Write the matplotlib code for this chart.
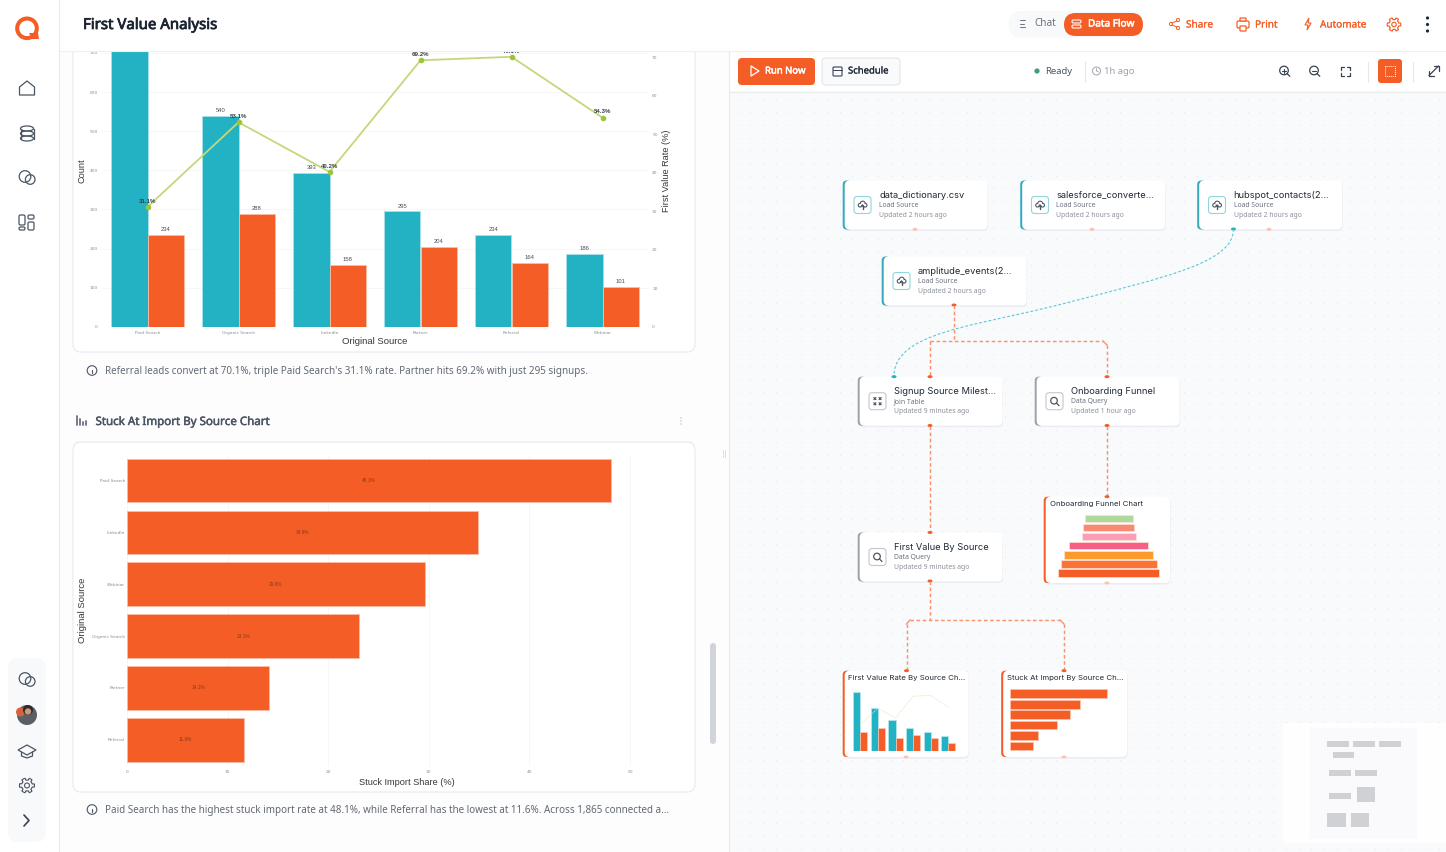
import numpy as np
import matplotlib
matplotlib.use("Agg")
import matplotlib.pyplot as plt
import matplotlib.patheffects as pe
from matplotlib.patches import Circle, Ellipse, FancyBboxPatch, PathPatch, Polygon, Rectangle
from matplotlib.path import Path

# ==============================
# Chart data
# ==============================

sources = ["Paid Search", "Organic Search", "LinkedIn", "Partner", "Referral", "Webinar"]
signups = [752, 540, 393, 295, 234, 186]
first_value = [234, 288, 158, 204, 164, 101]
first_value_rate = [31.1, 53.1, 40.2, 69.2, 70.1, 54.3]
count_ticks = [0, 100, 200, 300, 400, 500, 600, 700]
rate_ticks = [0, 10, 20, 30, 40, 50, 60, 70]

stuck_sources = ["Paid Search", "LinkedIn", "Webinar", "Organic Search", "Partner", "Referral"]
stuck_share = [48.1, 34.9, 29.6, 23.1, 14.1, 11.6]
stuck_ticks = [0, 10, 20, 30, 40, 50]

funnel_sizes = [48, 51, 54, 79, 89, 96, 101]
funnel_colors = ["#b0d89a", "#f88a74", "#fb9db5", "#f85f85", "#fd9a2c", "#fb7335", "#f55c26"]

TEAL = "#22b2c4"
ORANGE = "#f45d26"
LIME = "#c3d87a"
LIME_DOT = "#9cc43c"
GREY = "#4b5563"
SANS = "Noto Sans"
NODE = "Inter"
HELV = "Liberation Sans"
STROKE = {"bold": 0.55, "semibold": 0.35, "medium": 0.15}

W, H = 1446, 852
fig = plt.figure(figsize=(W / 100, H / 100), dpi=100)
fig.patch.set_facecolor("#fdfdfe")


def px_axes(x0, y0, x1, y1, z=1):
    a = fig.add_axes([x0 / W, 1 - y1 / H, (x1 - x0) / W, (y1 - y0) / H], zorder=z)
    a.patch.set_visible(False)
    return a


def overlay(z):
    a = px_axes(0, 0, W, H, z)
    a.set_xlim(0, W)
    a.set_ylim(H, 0)
    a.axis("off")
    return a


def rrect(a, x0, y0, x1, y1, r=4, fc="white", ec="none", lw=0.8, z=2):
    p = FancyBboxPatch((x0, y0), x1 - x0, y1 - y0, boxstyle=f"round,pad=0,rounding_size={r}",
                       fc=fc, ec=ec, lw=lw, zorder=z)
    a.add_patch(p)
    return p


def label(a, x, y, s, px, color=GREY, weight="normal", family=SANS, ha="left", z=6):
    # the sans family has no bold cut here, so heavier text gets a thin stroke
    t = a.text(x, y, s, fontsize=px * 0.72, color=color, family=family, ha=ha, va="center", zorder=z)
    if weight in STROKE:
        t.set_path_effects([pe.withStroke(linewidth=STROKE[weight], foreground=color)])


def line(a, xs, ys, color=GREY, lw=0.9, z=6, **kw):
    a.plot(xs, ys, color=color, lw=lw, zorder=z, solid_capstyle="round", **kw)


def ring(a, x, y, r, color=GREY, lw=0.9, fc="none", z=6):
    a.add_patch(Circle((x, y), r, fc=fc, ec=color, lw=lw, zorder=z))


def gear(a, x, y, r, color=GREY):
    th = np.linspace(0, 2 * np.pi, 90)
    rad = r * (0.86 + 0.14 * np.sign(np.cos(6 * th)))
    a.add_patch(Polygon(np.c_[x + rad * np.cos(th), y + rad * np.sin(th)], fc="none", ec=color, lw=0.8, joinstyle="round", zorder=6))
    ring(a, x, y, r * 0.33, color, 0.8)


def chat_icon(a, x, y):
    ring(a, x - 2, y - 1.5, 5.8, GREY, fc="none")
    ring(a, x + 3.2, y + 1.5, 4.8, GREY, fc="none")


bg = overlay(0)

# ==============================
# Panes
# ==============================

bg.add_patch(Rectangle((729, 0), W - 729, H, fc="#f8fafc", ec="none", zorder=0))
dots_x, dots_y = np.meshgrid(np.arange(737.7, W, 12.75), np.arange(99.5, H, 12.7))
bg.scatter(dots_x.ravel(), dots_y.ravel(), s=0.6, c="#e3e6ec", linewidths=0, zorder=1)
bg.add_patch(Rectangle((729, 51), W - 729, 40, fc="white", ec="none", zorder=2))
line(bg, [729, W], [91.5, 91.5], "#e8eaee", 0.8, 3)
line(bg, [728.5, 728.5], [51, H], "#e8eaee", 0.8, 3)
line(bg, [723, 723], [450, 457], "#dcdfe4", 0.7, 3)
line(bg, [725, 725], [450, 457], "#dcdfe4", 0.7, 3)

rrect(bg, 73, -40, 695, 352, 8, "white", "#e8eaee", 0.8)
rrect(bg, 73, 442, 695, 792, 8, "white", "#e8eaee", 0.8)
rrect(bg, 710, 643, 716, 744, 3, "#d1d5db")

# ==============================
# Captions
# ==============================

ring(bg, 92, 370.5, 4.8, "#4b5563", 0.8)
line(bg, [92, 92], [369.5, 373], "#4b5563", 0.8)
label(bg, 105, 371.5, "Referral leads convert at 70.1%, triple Paid Search's 31.1% rate. Partner hits 69.2% with just 295 signups.", 9.87, "#626974")
label(bg, 95.5, 422.5, "Stuck At Import By Source Chart", 11.55, "#4b5563", "semibold")
for bx, bh in zip([77, 80, 83, 85.5], [9, 6, 3, 4]):
    line(bg, [bx, bx], [425, 425 - bh], "#6b7280", 1.3)
for ky in [418, 421, 424]:
    bg.add_patch(Circle((681, ky), 0.6, fc="#9ca3af", ec="none", zorder=6))
ring(bg, 92, 809.5, 4.8, "#4b5563", 0.8)
line(bg, [92, 92], [808.5, 812], "#4b5563", 0.8)
label(bg, 105, 810.5, "Paid Search has the highest stuck import rate at 48.1%, while Referral has the lowest at 11.6%. Across 1,865 connected a\u2026", 9.87, "#626974")

# ==============================
# First value chart
# ==============================

COUNT_PX = 0.391
RATE_PX = 3.85
BASE_Y, TOP_Y = 326.7, 30
ax = px_axes(102, TOP_Y, 648, BASE_Y)
x = np.arange(len(sources))
bars_a = ax.bar(x - 0.2, signups, width=0.4, color=TEAL, edgecolor="#a8e0e8", linewidth=0.6)
bars_b = ax.bar(x + 0.2, first_value, width=0.4, color=ORANGE, edgecolor="#fbbca4", linewidth=0.6)
ax.set_xlim(-0.5, len(sources) - 0.5)
ax.set_ylim(0, (BASE_Y - TOP_Y) / COUNT_PX)
ax.set_yticks(count_ticks)
ax.set_xticks(x, sources)
ax.tick_params(length=0, labelsize=3.2, labelcolor="#8b8f96", pad=3)
ax.grid(axis="y", color="#f5f6f8", lw=0.6)
ax.set_axisbelow(True)
for s in ax.spines.values():
    s.set_visible(False)
# the tallest bar's label has scrolled away under the page header
ax.bar_label(bars_a, labels=["" if v > count_ticks[-1] else str(v) for v in signups],
             padding=2, fontsize=4.2, color="#4b4f55", family=HELV)
ax.bar_label(bars_b, padding=2, fontsize=4.2, color="#4b4f55", family=HELV)
ax.set_xlabel("Original Source", fontsize=6.8, family=HELV, color="#33363b", labelpad=1.5)
ax.set_ylabel("Count", fontsize=6.6, family=HELV, color="#33363b")
ax.yaxis.set_label_coords(-0.029, 0.525)

ax2 = ax.twinx()
ax2.patch.set_visible(False)
ax2.plot(x, first_value_rate, color=LIME, lw=1.3, marker="o", ms=3, mfc=LIME_DOT, mec=LIME_DOT)
ax2.set_ylim(0, (BASE_Y - TOP_Y) / RATE_PX)
ax2.set_yticks(rate_ticks)
ax2.tick_params(length=0, labelsize=3.2, labelcolor="#8b8f96", pad=3)
for s in ax2.spines.values():
    s.set_visible(False)
for xi, v in zip(x, first_value_rate):
    ax2.annotate(f"{v}%", (xi, v), xytext=(0, 3), textcoords="offset points", ha="center",
                 fontsize=4.4, fontweight="bold", family=HELV, color="#3b3f45")
ax2.set_ylabel("First Value Rate (%)", fontsize=6.6, family=HELV, color="#33363b")
ax2.yaxis.set_label_coords(1.026, 0.525)

# ==============================
# Stuck at import chart
# ==============================

ax3 = px_axes(127, 454.6, 660, 765.7)
y = np.arange(len(stuck_sources))
ax3.barh(y, stuck_share, height=0.84, color=ORANGE, edgecolor="#fbbca4", linewidth=0.6)
ax3.set_ylim(len(stuck_sources) - 0.5, -0.5)
ax3.set_xlim(0, 533 / 10.06)
ax3.set_xticks(stuck_ticks)
ax3.set_yticks(y, stuck_sources)
ax3.tick_params(axis="x", length=0, labelsize=3.2, labelcolor="#8b8f96", pad=3)
ax3.tick_params(axis="y", length=0, labelsize=3.2, labelcolor="#8b8f96", pad=1.5)
ax3.grid(axis="x", color="#f5f6f8", lw=0.6)
ax3.set_axisbelow(True)
for s in ax3.spines.values():
    s.set_visible(False)
for yi, v in zip(y, stuck_share):
    ax3.text(v / 2, yi, f"{v}%", ha="center", va="center", fontsize=3.4, color="#8a3a1c", family=HELV)
ax3.set_xlabel("Stuck Import Share (%)", fontsize=6.6, family=HELV, color="#33363b")
ax3.xaxis.set_label_coords(0.525, -0.039)
ax3.set_ylabel("Original Source", fontsize=6.8, family=HELV, color="#33363b")
ax3.yaxis.set_label_coords(-0.075, 0.5)

# ==============================
# Flow connectors
# ==============================

DASH = dict(ls=(0, (2.4, 1.8)))
FLOW = "#fa926e"
for xs, ys in [
    ([954, 954], [305, 341]),
    ([930, 930], [341, 376.7]),
    ([1107, 1107], [345, 376.7]),
    ([930, 1103], [341, 341]),
    ([930, 930], [425.5, 532.5]),
    ([1107, 1107], [425.5, 496.7]),
    ([930, 930], [581, 620]),
    ([910, 1060], [620, 620]),
    ([906.5, 906.5], [624, 670.7]),
    ([1064, 1064], [624, 670.7]),
]:
    bg.plot(xs, ys, color=FLOW, lw=1.05, zorder=3, **DASH)
bg.plot([1103, 1107], [341, 345], color=FLOW, lw=1, zorder=3)
bg.plot([910, 906.5], [620, 624], color=FLOW, lw=1, zorder=3)
bg.plot([1060, 1064], [620, 624], color=FLOW, lw=1, zorder=3)

curve = Path(
    [(1233.5, 229), (1233.5, 262), (1170, 276), (1066, 303), (1000, 320), (950, 326), (918, 343), (903, 351), (894, 362), (894, 376)],
    [Path.MOVETO] + [Path.CURVE4] * 9,
)
bg.add_patch(PathPatch(curve, fc="none", ec="#5fc6d4", lw=0.8, ls=(0, (2.5, 1.8)), zorder=3))

for px_, py_, col in [
    (954, 305, ORANGE), (930, 376.7, ORANGE), (1107, 376.7, ORANGE), (930, 425.5, ORANGE),
    (1107, 425.5, ORANGE), (930, 532.5, ORANGE), (1107, 496.7, ORANGE), (930, 581, ORANGE),
    (906.5, 670.7, ORANGE), (1064, 670.7, ORANGE), (1233.5, 229, TEAL), (894, 376.7, TEAL),
    (915, 229.3, "#fbc4b0"), (1092, 229.3, "#fbc4b0"), (1269, 229.3, "#fbc4b0"),
    (1107, 583, "#fbc4b0"), (906, 757, "#fbc4b0"), (1064, 757, "#fbc4b0"),
]:
    bg.add_patch(Ellipse((px_, py_), 5, 3, fc=col, ec="none", zorder=5))

# ==============================
# Flow nodes
# ==============================


def node_card(x0, y0, x1, y1, accent):
    rrect(bg, x0 + 0.5, y0 + 1.5, x1 + 0.5, y1 + 1.5, 5, "#e9ecf1", z=3)
    rrect(bg, x0 - 0.8, y0, x0 + 8, y1, 4, accent, z=3.5)
    rrect(bg, x0 + 1.2, y0, x1, y1, 5, "white", z=4)


def cloud_icon(cx, cy):
    rrect(bg, cx - 8.5, cy - 8.5, cx + 8.5, cy + 8.5, 3, "white", "#8fd6e0", 0.8, 5)
    for ox, oy, r in [(-2.4, 0.2, 2.4), (0.2, -1.4, 3), (2.6, 0.2, 2.4)]:
        ring(bg, cx + ox, cy + oy, r, "#4b5563", 0, "#4b5563")
    for ox, oy, r in [(-2.4, 0.2, 1.3), (0.2, -1.4, 1.9), (2.6, 0.2, 1.3)]:
        ring(bg, cx + ox, cy + oy, r, "white", 0, "white")
    bg.add_patch(Polygon([(cx - 2, cy + 1.5), (cx + 2, cy + 1.5), (cx, cy - 1)], fc="#4b5563", ec="none", zorder=7))
    line(bg, [cx, cx], [cy + 1, cy + 4], "#4b5563", 1, 7)


def query_icon(cx, cy):
    rrect(bg, cx - 8.5, cy - 8.5, cx + 8.5, cy + 8.5, 3, "white", "#c4c7cc", 0.8, 5)
    ring(bg, cx - 0.5, cy - 0.5, 3.3, "#4b5563", 0.9)
    line(bg, [cx + 2, cx + 4.5], [cy + 2, cy + 4.5], "#4b5563", 0.9)


def join_icon(cx, cy):
    rrect(bg, cx - 8.5, cy - 8.5, cx + 8.5, cy + 8.5, 3, "white", "#c4c7cc", 0.8, 5)
    for ox in (-2.6, 2.6):
        for oy in (-2.6, 2.6):
            line(bg, [cx + ox - 1, cx + ox + 1], [cy + oy - 1, cy + oy + 1], "#4b5563", 0.9)
            line(bg, [cx + ox - 1, cx + ox + 1], [cy + oy + 1, cy + oy - 1], "#4b5563", 0.9)


NODE_W, NODE_H = 144, 49
for nx, ny, title, sub, upd, accent, icon in [
    (843.5, 180.5, "data_dictionary.csv", "Load Source", "Updated 2 hours ago", "#36a9bd", cloud_icon),
    (1021, 180.5, "salesforce_converte\u2026", "Load Source", "Updated 2 hours ago", "#36a9bd", cloud_icon),
    (1198, 180.5, "hubspot_contacts(2\u2026", "Load Source", "Updated 2 hours ago", "#36a9bd", cloud_icon),
    (882.5, 256.5, "amplitude_events(2\u2026", "Load Source", "Updated 2 hours ago", "#36a9bd", cloud_icon),
    (858.5, 376.7, "Signup Source Milest\u2026", "Join Table", "Updated 9 minutes ago", "#9ca3af", join_icon),
    (1035.5, 376.7, "Onboarding Funnel", "Data Query", "Updated 1 hour ago", "#9ca3af", query_icon),
    (858.5, 532.5, "First Value By Source", "Data Query", "Updated 9 minutes ago", "#9ca3af", query_icon),
]:
    node_card(nx, ny, nx + NODE_W, ny + NODE_H, accent)
    icon(nx + 19, ny + 24.5)
    label(bg, nx + 35.5, ny + 14.5, title, 9.3, "#1f2937", family=NODE)
    label(bg, nx + 35.5, ny + 25, sub, 6.8, "#6b7280")
    label(bg, nx + 35.5, ny + 35, upd, 6.8, "#8b919b")

for nx, ny, nw, nh, title in [
    (1044.5, 496.7, 125.5, 86.3, "Onboarding Funnel Chart"),
    (843.5, 670.7, 125, 86.3, "First Value Rate By Source Ch\u2026"),
    (1002, 670.7, 125, 86.3, "Stuck At Import By Source Ch\u2026"),
]:
    node_card(nx, ny, nx + nw, ny + nh, ORANGE)
    label(bg, nx + 5, ny + 7, title, 7.8, "#1f2937", family=NODE)

# funnel thumbnail
mini_f = px_axes(1050, 514.2, 1168, 577.5, 3)
mini_f.barh(range(len(funnel_sizes)), funnel_sizes, left=[-v / 2 for v in funnel_sizes],
            height=0.8, color=funnel_colors, edgecolor="#fde3d8", linewidth=0.5)
mini_f.set_xlim(-58.7, 59.3)
mini_f.set_ylim(len(funnel_sizes) - 0.5, -0.5)
mini_f.axis("off")

# first value thumbnail
mini_a = px_axes(851.5, 690, 957.1, 750.7, 3)
mini_a.bar(x - 0.2, signups, width=0.4, color=TEAL, edgecolor="#c4ecf0", linewidth=0.4)
mini_a.bar(x + 0.2, first_value, width=0.4, color=ORANGE, edgecolor="#fbd0c0", linewidth=0.4)
mini_a.set_xlim(-0.5, len(sources) - 0.5)
mini_a.set_ylim(0, 773)
mini_a.axis("off")
mini_b = mini_a.twinx()
mini_b.plot(x, first_value_rate, color="#dfe6c0", lw=0.5, ls=(0, (2, 1)))
mini_b.set_ylim(-3.4, 77.4)
mini_b.axis("off")

# stuck thumbnail
mini_s = px_axes(1010, 688.6, 1111, 751.2, 3)
mini_s.barh(y, stuck_share, height=0.84, color=ORANGE, edgecolor="#fbc4b0", linewidth=0.5)
mini_s.set_xlim(0, 50)
mini_s.set_ylim(len(stuck_share) - 0.5, -0.5)
mini_s.axis("off")

# ==============================
# Minimap
# ==============================

bg.add_patch(Rectangle((1283, 723), W - 1283, 120, fc="#fefefe", ec="none", zorder=4))
bg.add_patch(Rectangle((1310, 728), 107, 111, fc="#fafafc", ec="none", zorder=4))
for mx, my, mw, mh in [
    (1327, 741, 22, 5.7), (1353, 741, 22, 5.7), (1379, 741, 22, 5.7), (1333, 752.3, 21, 5.5),
    (1329, 770.3, 22, 5.5), (1355, 770.3, 22, 5.5), (1329, 793.3, 22, 5.5), (1357, 787.3, 18, 14.4),
    (1327, 813, 19, 13.7), (1351, 813, 18, 13.7),
]:
    bg.add_patch(Rectangle((mx, my), mw, mh, fc="#cfd1d4", ec="none", zorder=5))

# ==============================
# Header, toolbar and sidebar
# ==============================

fg = overlay(5)
fg.add_patch(Rectangle((60, 0), W - 60, 50.5, fc="white", ec="none", zorder=1))
line(fg, [60, W], [50.5, 50.5], "#eef0f3", 0.8, 2)
rrect(fg, -20, -20, 59.5, H + 20, 12, "white", "#e8eaee", 0.8, 3)
label(fg, 83, 25.5, "First Value Analysis", 15, "#1b2430", "bold")

ring(fg, 27, 28.3, 9.8, ORANGE, 2.9)
fg.add_patch(Polygon([(29, 33), (38, 33), (39, 39), (32, 39)], fc=ORANGE, ec="none", zorder=6))

# main nav
fg.add_patch(Polygon([(19.5, 95), (19.5, 87), (27, 81), (34.5, 87), (34.5, 95)], fc="none", ec=GREY, lw=0.9, joinstyle="round", zorder=6))
fg.add_patch(Ellipse((27, 128.5), 13, 5, fc="none", ec=GREY, lw=0.9, zorder=6))
fg.add_patch(Ellipse((27, 133.5), 13, 5, fc="none", ec=GREY, lw=0.9, zorder=6))
fg.add_patch(Ellipse((27, 138.5), 13, 5, fc="none", ec=GREY, lw=0.9, zorder=6))
line(fg, [20.5, 20.5], [128.5, 138.5], GREY)
line(fg, [33.5, 33.5], [128.5, 138.5], GREY)
chat_icon(fg, 27, 178)
for rx0, ry0, rx1, ry1 in [(19, 215, 25, 225), (28, 215, 34, 219), (19, 227, 25, 230), (28, 222, 34, 230)]:
    rrect(fg, rx0, ry0, rx1, ry1, 1.5, "white", GREY, 0.9, 6)

# bottom nav
rrect(fg, 8, 658, 46, 842, 10, "#f8f9fb", z=4)
chat_icon(fg, 27, 680)
ring(fg, 27, 715, 10, "none", 0, "#5a5f66")
fg.add_patch(Circle((20.5, 712), 4.5, fc="#d9603f", ec="none", zorder=6))
fg.add_patch(Circle((28, 710), 5, fc="#2f2a28", ec="none", zorder=7))
fg.add_patch(Circle((28, 711.5), 3.2, fc="#c49a80", ec="none", zorder=8))
fg.add_patch(Polygon([(18, 750), (27, 745), (36, 750), (27, 755)], fc="none", ec=GREY, lw=0.9, zorder=6))
line(fg, [21.5, 21.5, 27, 32.5, 32.5], [752, 756, 758, 756, 752], GREY)
gear(fg, 27, 785.5, 7.5)
line(fg, [24, 29, 24], [815, 820.5, 826], "#374151", 1.2)

# top right actions
rrect(fg, 1008.5, 11, 1143, 37.5, 13, "#f8f9fb", z=3)
rrect(fg, 1064, 13, 1143, 36, 11.5, ORANGE, z=4)
for ly, lx in [(20, 5), (23.5, 4), (27, 5)]:
    line(fg, [1020, 1020 + lx], [ly, ly], "#6b7280", 0.7)
label(fg, 1034, 24, "Chat", 10, "#6b7280")
rrect(fg, 1072, 20, 1081, 23, 1.4, ORANGE, "white", 0.8, 6)
rrect(fg, 1072, 25, 1081, 28, 1.4, ORANGE, "white", 0.8, 6)
label(fg, 1088, 24, "Data Flow", 10, "white", "semibold")
for sx, sy in [(1171, 24), (1178, 20), (1178, 28)]:
    ring(fg, sx, sy, 1.6, ORANGE, 0.7)
line(fg, [1172, 1177], [23, 21], ORANGE, 0.7)
line(fg, [1172, 1177], [25, 27], ORANGE, 0.7)
label(fg, 1186, 25, "Share", 10, ORANGE, "medium")
rrect(fg, 1237, 21, 1249, 28, 1.5, "white", ORANGE, 0.9, 6)
rrect(fg, 1240, 18, 1246, 21, 0.5, "white", ORANGE, 0.9, 6)
rrect(fg, 1240, 26, 1246, 31, 0.5, "white", ORANGE, 0.9, 6)
label(fg, 1255, 25, "Print", 10, ORANGE, "medium")
fg.add_patch(Polygon([(1309, 18), (1305, 25), (1308, 25), (1307, 30), (1311, 23), (1308, 23)], fc="none", ec=ORANGE, lw=0.8, zorder=6))
label(fg, 1320, 25, "Automate", 10, ORANGE, "medium")
gear(fg, 1394, 24.5, 6.8, ORANGE)
for ky in [18, 24.5, 31]:
    fg.add_patch(Circle((1427.5, ky), 1.6, fc="#1f2937", ec="none", zorder=6))

# flow toolbar
rrect(fg, 738, 58, 815, 85, 4, ORANGE, z=3)
fg.add_patch(Polygon([(751, 66), (751, 76), (759, 71)], fc="none", ec="white", lw=0.9, joinstyle="round", zorder=6))
label(fg, 765, 71, "Run Now", 9.5, "white", "semibold")
rrect(fg, 822, 58, 900, 85, 4, "#f9fafb", "#e3e5e9", 0.8, 3)
rrect(fg, 833, 67, 842, 76, 1, "none", "#374151", 0.8, 6)
line(fg, [833, 842], [69.5, 69.5], "#374151", 0.7)
label(fg, 848, 71, "Schedule", 9.5, "#1f2937", "medium")
fg.add_patch(Circle((1037, 71), 2.6, fc="#3f9c84", ec="none", zorder=6))
label(fg, 1045, 71, "Ready", 9.5, "#4b5563")
line(fg, [1084.5, 1084.5], [61, 82], "#e5e7eb", 0.8)
ring(fg, 1096.5, 71, 4, "#a0a5ad", 0.7)
line(fg, [1096.5, 1096.5, 1098.5], [68.5, 71, 72], "#a0a5ad", 0.6)
label(fg, 1104, 71, "1h ago", 9.5, "#9ca3af")
for zx, plus in [(1284, True), (1314, False)]:
    ring(fg, zx, 70.5, 4.3, "#374151", 0.9)
    line(fg, [zx + 3.2, zx + 5.8], [73.7, 76.3], "#374151", 0.9)
    line(fg, [zx - 2, zx + 2], [70.5, 70.5], "#374151", 0.8)
    if plus:
        line(fg, [zx, zx], [68.5, 72.5], "#374151", 0.8)
for cx_, cy_, dx, dy in [(1340.5, 66.5, 1, 1), (1350, 66.5, -1, 1), (1340.5, 76, 1, -1), (1350, 76, -1, -1)]:
    line(fg, [cx_ + 3 * dx, cx_, cx_], [cy_, cy_, cy_ + 3 * dy], "#374151", 0.9)
line(fg, [1367.5, 1367.5], [62, 82], "#e5e7eb", 0.8)
rrect(fg, 1378, 59, 1402, 83, 3, ORANGE, z=3)
fg.add_patch(Rectangle((1385, 66), 10, 10, fc="none", ec="white", lw=0.7, ls=(0, (1, 1)), zorder=6))
line(fg, [1412.5, 1412.5], [62, 82], "#e5e7eb", 0.8)
line(fg, [1429, 1438.5], [75.5, 66], "#374151", 0.9)
line(fg, [1434, 1439, 1439], [65.5, 65.5, 70.5], "#374151", 0.9)
line(fg, [1429, 1429, 1434], [71, 76, 76], "#374151", 0.9)

fig.savefig("out.png", dpi=100, facecolor=fig.get_facecolor())
